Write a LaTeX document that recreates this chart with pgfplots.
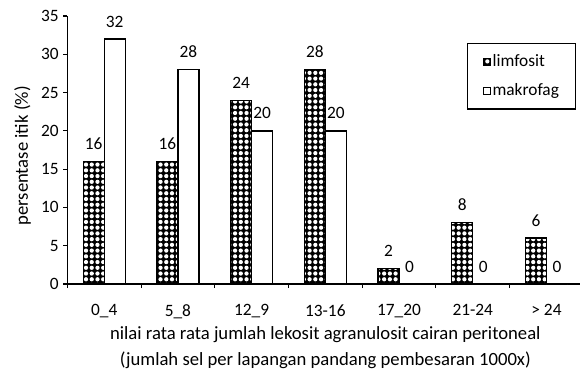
\documentclass[border=0pt]{standalone}
\usepackage{pgfplots}
\pgfplotsset{compat=1.18}
\usepackage{fontspec}
\setmainfont{Carlito}
\usetikzlibrary{patterns}
\pgfdeclarepatternformonly{dotgrid}{\pgfqpoint{-2.2pt}{-2.2pt}}{\pgfqpoint{2.2pt}{2.2pt}}{\pgfqpoint{4.3pt}{4.3pt}}{%
  \pgfpathcircle{\pgfqpoint{0pt}{0pt}}{1.6pt}\pgfusepath{fill}}
\begin{document}
\begin{tikzpicture}
\begin{axis}[
  scale only axis,
  width=387pt, height=201pt,
  xmin=-0.5, xmax=6.5,
  ymin=0, ymax=35,
  ytick={0,5,...,35},
  xtick={-0.5,0.5,...,6.5},
  x tick label as interval,
  xticklabels={0\_4,5\_8,12\_9,13-16,17\_20,21-24,> 24},
  axis x line*=bottom, axis y line*=left,
  axis line style={-, black, line width=0.8pt},
  tick align=outside, major tick length=3pt,
  tick style={black, line width=0.8pt},
  ybar=0pt, bar width=15.75pt,
  /pgf/number format/assume math mode=true,
  tick label style={font=\fontsize{13}{15}\selectfont},
  xticklabel style={yshift=-9pt},
  ylabel={persentase itik (\%)},
  ylabel style={font=\fontsize{14}{17}\selectfont, at={(axis description cs:-0.087,0.478)}, anchor=center},
  xlabel={nilai rata rata jumlah lekosit agranulosit cairan peritoneal\\(jumlah sel per lapangan pandang pembesaran 1000x)},
  xlabel style={font=\fontsize{14}{19.5}\selectfont, align=center, yshift=1pt},
  nodes near coords,
  every node near coord/.append style={font=\fontsize{13}{15}\selectfont, yshift=5pt},
  legend style={at={(0.986,0.899)}, anchor=north east, draw=black, line width=0.8pt,
    font=\fontsize{13}{15}\selectfont, row sep=7pt, inner xsep=11pt, inner ysep=6.5pt,
    nodes={inner xsep=1.5pt}},
  legend cell align=left,
  legend image code/.code={\draw[#1, line width=0.6pt] (0pt,-2.7pt) rectangle (5.4pt,2.7pt);},
]
\addplot[draw=black, line width=1pt, fill=black, postaction={pattern=dotgrid, pattern color=white}]
  coordinates {(0,16) (1,16) (2,24) (3,28) (4,2) (5,8) (6,6)};
\addplot[draw=black, line width=1pt, fill=white]
  coordinates {(0,32) (1,28) (2,20) (3,20) (4,0) (5,0) (6,0)};
\legend{limfosit, makrofag}
\end{axis}
\pgfresetboundingbox
\path[use as bounding box] ([xshift=-50.5pt,yshift=-65.25pt]current axis.south west) rectangle ([xshift=-2.5pt,yshift=12pt]current axis.north east);
\end{tikzpicture}
\end{document}
